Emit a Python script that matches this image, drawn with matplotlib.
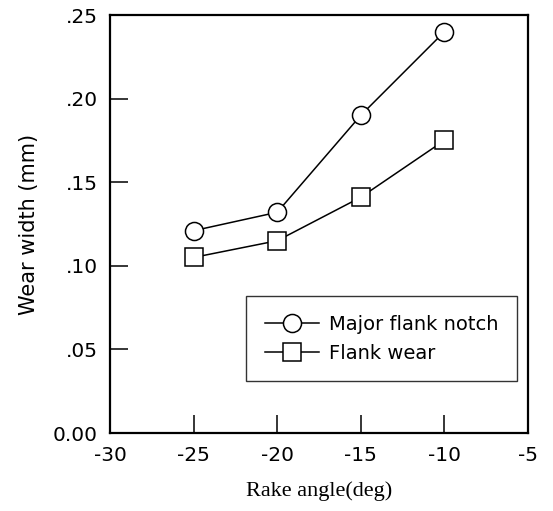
import matplotlib
matplotlib.use("Agg")
import matplotlib.pyplot as plt

rake = [-25, -20, -15, -10]
notch = [0.121, 0.132, 0.190, 0.240]
flank = [0.105, 0.115, 0.141, 0.175]
xticks = [-30, -25, -20, -15, -10, -5]
yticks = [0.0, 0.05, 0.10, 0.15, 0.20, 0.25]
ylabels = ["0.00", ".05", ".10", ".15", ".20", ".25"]

plt.rcParams['font.family'] = ['DejaVu Sans']
fig = plt.figure(figsize=(5.53, 5.11), dpi=100)
ax = fig.add_axes([110/553, 1-433/511, (528-110)/553, (433-15)/511])

ax.plot(rake, notch, color='black', lw=1.1, marker='o', ms=13, mfc='white', mec='black', mew=1.1,
        label='Major flank notch')
ax.plot(rake, flank, color='black', lw=1.1, marker='s', ms=12.5, mfc='white', mec='black', mew=1.1,
        label='Flank wear')

ax.set_xlim(-30, -5)
ax.set_ylim(0, 0.25)
ax.set_xticks(xticks)
ax.set_xticklabels([str(v) for v in xticks])
ax.set_yticks(yticks)
ax.set_yticklabels(ylabels)
ax.tick_params(direction='in', length=13, width=1.1, labelsize=14.5, pad=9, top=False, right=False)
for s in ax.spines.values():
    s.set_linewidth(1.6)

ax.set_ylabel('Wear width (mm)', fontsize=15, labelpad=10)
ax.set_xlabel('Rake angle(deg)', fontsize=16, family=['Liberation Serif', 'DejaVu Serif'], labelpad=12)

leg = ax.legend(loc='lower right', bbox_to_anchor=(517/553, 1-381/511), bbox_transform=fig.transFigure,
                fontsize=14, frameon=True, fancybox=False, edgecolor='black', borderpad=0.95,
                handlelength=2.8, handletextpad=0.5, labelspacing=0.5, borderaxespad=0)
leg.get_frame().set_linewidth(1.0)

fig.savefig('out.png', dpi=100)
